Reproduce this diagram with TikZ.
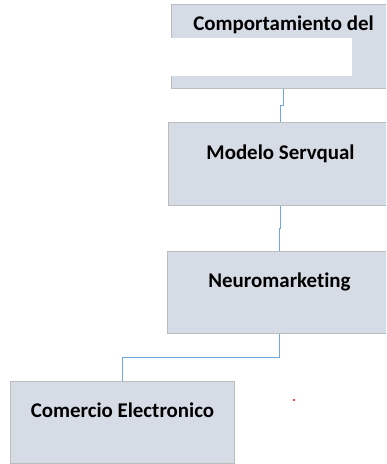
\documentclass[tikz,border=0pt]{standalone}
\usepackage{fontspec}
\setmainfont[Ligatures=NoCommon]{Carlito}
\usepackage{tikz}
\usepackage{xcolor}
\usetikzlibrary{calc, positioning}

\definecolor{boxfill}{HTML}{D6DCE5}
\definecolor{boxline}{HTML}{BCBCBC}
\definecolor{linkblue}{HTML}{6FA8DC}

\tikzset{
  box/.style={draw=boxline, fill=boxfill, line width=1bp, anchor=north west,
    minimum width=224bp, minimum height=83bp, inner sep=2bp,
    font=\fontsize{21}{24}\selectfont\bfseries, text height=13.5bp, text depth=#1},
  box/.default=24bp,
  link/.style={draw=linkblue, line width=1.5bp}
}

\begin{document}
\begin{tikzpicture}[x=1bp, y=-1bp]
    \clip (0,0) rectangle (386,464);
    \node[box=45bp, minimum height=84bp] (cdc) at (171,4) {Comportamiento del};
    \fill[white] (170,38) rectangle (352,76);
    \node[box=23bp] (ms) at (168,122) {Modelo Servqual};
    \node[box, minimum height=82bp] (nm) at (167,251) {Neuromarketing};
    \node[box, minimum height=82bp] (ce) at (10,381) {Comercio Electronico};
    \draw[link] (cdc.south) |- ($(cdc.south)!.5!(ms.north)$) -| (ms.north);
    \draw[link] (ms.south) |- ($(ms.south)!.5!(nm.north)$) -| (nm.north);
    \draw[link] (nm.south) |- ($(nm.south)!.5!(ce.north)$) -| (ce.north);
    \fill[red] (294,400) circle (1.2);
\end{tikzpicture}
\end{document}
